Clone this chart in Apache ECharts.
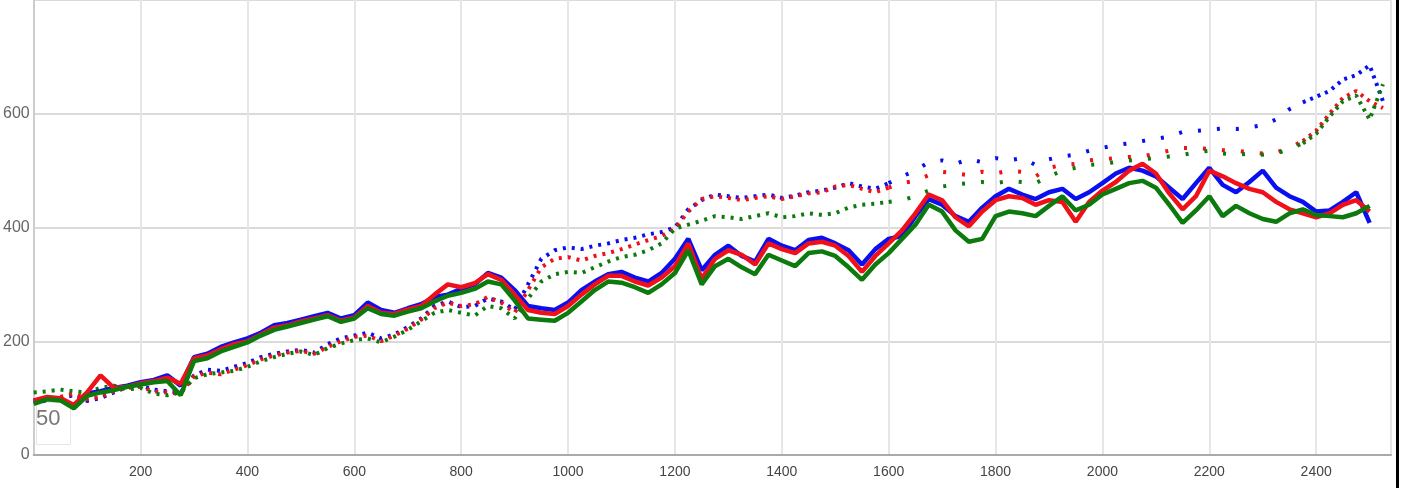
<!DOCTYPE html>
<html>
<head>
<meta charset="utf-8">
<script src="https://cdn.jsdelivr.net/npm/echarts@6/dist/echarts.min.js"></script>
<style>
html, body { margin: 0; padding: 0; background: #fff; }
#chart { width: 1403px; height: 488px; }
</style>
</head>
<body>
<div id="chart"></div>
<script>
// x positions: solid lines every 25 from 0 to 2500, dashed ones to 2525
var lineX = [];
for (var i = 0; i <= 100; i++) lineX.push(i * 25);
var dashX = [];
for (var j = 0; j <= 101; j++) dashX.push(j * 25);

var xTicks = [200, 400, 600, 800, 1000, 1200, 1400, 1600, 1800, 2000, 2200, 2400];
var yTicks = [0, 200, 400, 600];

// solid series
var blueLine = [95,100,98,85,108,112,118,122,128,132,140,122,172,178,190,198,205,215,228,232,
    238,244,250,240,246,268,255,250,258,265,278,282,292,300,320,312,290,262,258,255,
    268,290,305,318,322,312,305,320,345,380,325,352,368,350,340,380,368,360,378,382,
    372,360,335,362,380,385,420,450,440,420,410,435,455,468,458,450,462,468,450,462,
    478,495,505,500,490,470,450,478,505,475,462,480,500,470,455,445,428,430,445,462,408];
var redLine = [96,102,100,88,110,140,118,120,126,130,136,125,170,175,186,195,200,212,224,228,
    235,240,246,236,242,262,250,248,256,262,282,300,295,302,318,308,282,255,250,248,
    262,282,300,315,315,305,298,312,332,372,310,345,360,352,335,372,362,355,372,375,
    368,350,322,350,372,395,425,458,448,418,402,428,448,455,452,440,448,445,410,445,
    465,480,500,512,495,460,432,455,500,490,478,468,462,445,432,425,418,425,440,448,428];
var greenLine = [90,98,96,82,104,110,114,120,124,128,130,105,165,170,182,190,198,210,220,226,
    232,238,244,234,240,258,248,245,252,258,270,280,285,292,305,300,272,240,238,236,
    250,270,290,305,303,295,285,300,320,360,300,332,345,330,318,352,342,332,355,358,
    350,330,308,335,355,380,405,440,428,395,375,380,420,428,425,420,438,455,430,440,
    458,468,478,482,470,440,408,430,455,420,438,425,415,410,425,432,422,420,418,425,438];

// broken / dashed series
var blueDash = [92,96,100,105,95,100,110,120,122,115,112,110,140,150,148,155,162,172,178,182,
    185,180,195,205,210,215,205,212,225,240,262,270,260,262,275,270,255,300,345,360,
    365,362,368,372,378,382,388,392,400,432,448,458,455,452,455,458,452,456,462,465,
    470,478,472,468,478,490,500,515,518,512,520,515,522,518,522,510,520,525,528,535,
    540,545,548,552,556,560,568,570,572,574,573,576,580,590,608,620,630,640,660,668,685,622];
var redDash = [95,98,102,108,98,102,112,118,120,112,110,108,138,145,142,150,158,168,175,180,
    183,178,190,200,208,210,200,210,222,238,258,268,262,265,278,268,250,290,330,345,
    348,342,350,355,362,370,378,385,398,428,450,455,452,448,452,455,450,455,460,462,
    472,475,468,462,470,478,482,492,498,495,492,498,495,500,498,490,505,510,512,518,
    520,522,524,525,530,535,540,540,538,536,535,532,530,532,540,552,570,600,628,640,622,610];
var greenDash = [110,112,115,112,110,118,122,115,118,108,105,110,135,142,145,148,155,165,172,178,
    182,176,188,196,202,205,198,208,220,235,250,255,250,245,262,258,240,275,305,318,
    322,320,330,340,348,352,360,372,398,405,412,420,418,415,420,425,418,420,425,422,
    425,435,440,442,445,448,455,465,472,476,478,480,478,482,480,478,490,500,505,510,
    512,515,518,520,522,525,528,532,535,530,528,530,528,530,538,548,565,595,622,632,590,652];

// index where the dashed series become sparse dots (x = 1600) and dense again (x = 2375)
var sparseFrom = 64, sparseTo = 95;

function pairs(xs, ys, from, to) {
    var out = [];
    for (var k = from; k <= to; k++) out.push([xs[k], ys[k]]);
    return out;
}

var colors = { blue: '#0a0ff0', red: '#f0101a', green: '#0c7a0c' };

function solid(data, color) {
    return {
        type: 'line', showSymbol: false, symbol: 'none',
        data: pairs(lineX, data, 0, data.length - 1),
        lineStyle: { color: color, width: 4.5 },
        z: 3
    };
}
function dashed(data, color, from, to, gap) {
    return {
        type: 'line', showSymbol: false, symbol: 'none',
        data: pairs(dashX, data, from, to),
        lineStyle: { color: color, width: 4, type: [3, gap] },
        z: 2
    };
}

var dashSeries = [];
[[blueDash, colors.blue], [redDash, colors.red], [greenDash, colors.green]].forEach(function (d) {
    dashSeries.push(dashed(d[0], d[1], 0, sparseFrom, 6));
    dashSeries.push(dashed(d[0], d[1], sparseFrom, sparseTo, 16));
    dashSeries.push(dashed(d[0], d[1], sparseTo, d[0].length - 1, 5));
});

var option = {
    animation: false,
    backgroundColor: '#fff',
    grid: { left: 33, right: 12, top: -41, bottom: 33 },
    xAxis: {
        type: 'value', min: 0, max: 2540, interval: 200,
        axisLine: { show: true, lineStyle: { color: '#aaa', width: 2 } },
        axisTick: { show: false },
        axisLabel: {
            color: '#444', fontSize: 14, fontFamily: 'Liberation Sans Narrow, Liberation Sans, sans-serif',
            margin: 10, showMinLabel: false, showMaxLabel: false,
            formatter: function (v) { return xTicks.indexOf(v) >= 0 ? String(v) : ''; }
        },
        splitLine: { show: true, lineStyle: { color: '#e6e6e6', width: 2 } }
    },
    yAxis: {
        type: 'value', min: 0, max: 800, interval: 200,
        axisLine: { show: true, lineStyle: { color: '#ccc', width: 2 } },
        axisTick: { show: false },
        axisLabel: {
            color: '#666', fontSize: 16, fontFamily: 'Liberation Sans Narrow, Liberation Sans, sans-serif',
            margin: 4,
            formatter: function (v) { return yTicks.indexOf(v) >= 0 ? String(v) : ''; }
        },
        splitLine: { show: true, lineStyle: { color: '#dadada', width: 2 } }
    },
    graphic: [
        {
            type: 'rect', left: 36, top: 402,
            shape: { width: 34, height: 42 },
            style: { fill: '#fff', stroke: '#e6e6e6', lineWidth: 1 }
        },
        {
            type: 'text', left: 36, top: 408,
            style: { text: '50', fill: '#777', font: '22px Liberation Sans Narrow, sans-serif' }
        },
        {
            type: 'rect', left: 1396, top: 0,
            shape: { width: 3, height: 488 },
            style: { fill: '#000' }
        }
    ],
    series: dashSeries.concat([
        solid(blueLine, colors.blue),
        solid(redLine, colors.red),
        solid(greenLine, colors.green)
    ])
};

var chart = echarts.init(document.getElementById('chart'));
chart.setOption(option);
</script>
</body>
</html>
